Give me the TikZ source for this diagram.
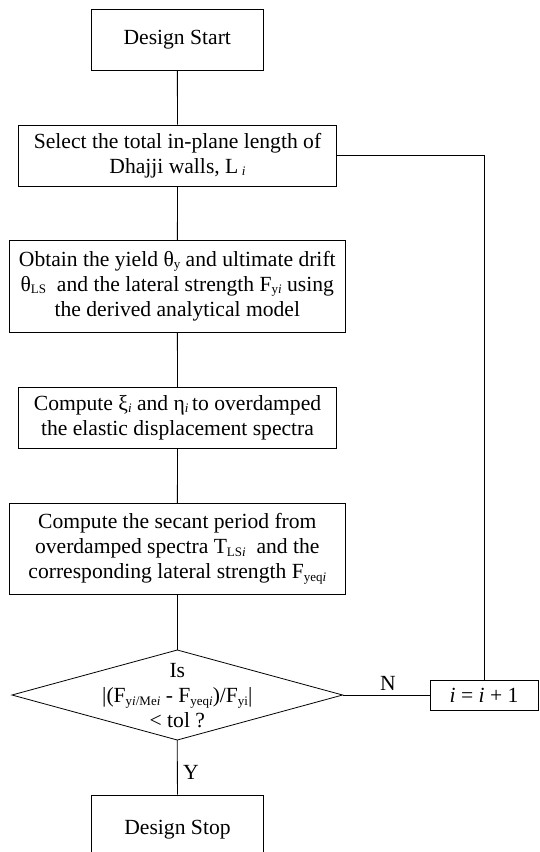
\documentclass[tikz,border=0pt]{standalone}
\usepackage{fontspec}
\setmainfont{Liberation Serif}
\newcommand\sbs[1]{\raisebox{-0.1em}{\fontsize{13bp}{13bp}\selectfont #1}}
\begin{document}
\begin{tikzpicture}[x=1bp,y=-1bp,
  font=\fontsize{21.6bp}{25bp}\selectfont,
  box/.style={draw, line width=0.8bp, inner sep=0pt, align=center},
  conn/.style={draw, line width=0.8bp},
  lbl/.style={inner sep=0pt}]
\useasboundingbox (0,0) rectangle (540,852);
\clip (0,0) rectangle (540,852);
\node[box, minimum width=171.3bp, minimum height=60.7bp] (start) at (177.3,39.7) {Design Start};
\node[box, minimum width=318.4bp, minimum height=61bp] (sel) at (177.5,155.5)
  {Select the total in-plane length of\\Dhajji walls, L\,\sbs{\textit{i}}};
\node[box, minimum width=336.7bp, minimum height=91.6bp] (obt) at (177.3,286.5)
  {Obtain the yield θ\sbs{y} and ultimate drift\\
   θ\sbs{LS}\ \ and the lateral strength F\sbs{y\textit{i}} using\\
   the derived analytical model};
\node[box, minimum width=318.4bp, minimum height=61bp] (xi) at (177.5,417.8)
  {Compute ξ\sbs{\textit{i}} and η\sbs{\textit{i}}\,to overdamped\\
   the elastic displacement spectra};
\node[box, minimum width=336.7bp, minimum height=91bp] (sec) at (177.3,548.8)
  {Compute the secant period from\\
   overdamped spectra T\sbs{LS\textit{i}}\ \ and the\\
   corresponding lateral strength F\sbs{yeq\textit{i}}};
% decision diamond
\coordinate (dT) at (177.3,650);
\coordinate (dR) at (342.6,695);
\coordinate (dB) at (177.3,740);
\coordinate (dL) at (12,695);
\draw[conn] (dT) -- (dR) -- (dB) -- (dL) -- cycle;
\node[lbl, align=center] (dtext) at (177.3,696)
  {Is\\
   |(F\sbs{y\textit{i}/Me\textit{i}} - F\sbs{yeq\textit{i}})/F\sbs{yi}|\\
   < tol ?};
\node[box, minimum width=108bp, minimum height=30bp] (inc) at (484,695) {\textit{i} = \textit{i} + 1};
\node[box, minimum width=171.3bp, minimum height=70bp] (stop) at (177.5,830) {Design Stop};
% connectors
\draw[conn] (start) -- (sel);
\draw[conn] (sel) -- (obt);
\draw[conn] (obt) -- (xi);
\draw[conn] (xi) -- (sec);
\draw[conn] (sec) -- (dT);
\draw[conn] (dB) -- (stop);
\draw[conn] (dR) -- (inc);
\draw[conn] (inc.north) |- (sel.east);
\node[lbl] (nlab) at (388,683) {N};
\node[lbl] (ylab) at (191,772) {Y};
\end{tikzpicture}
\end{document}
